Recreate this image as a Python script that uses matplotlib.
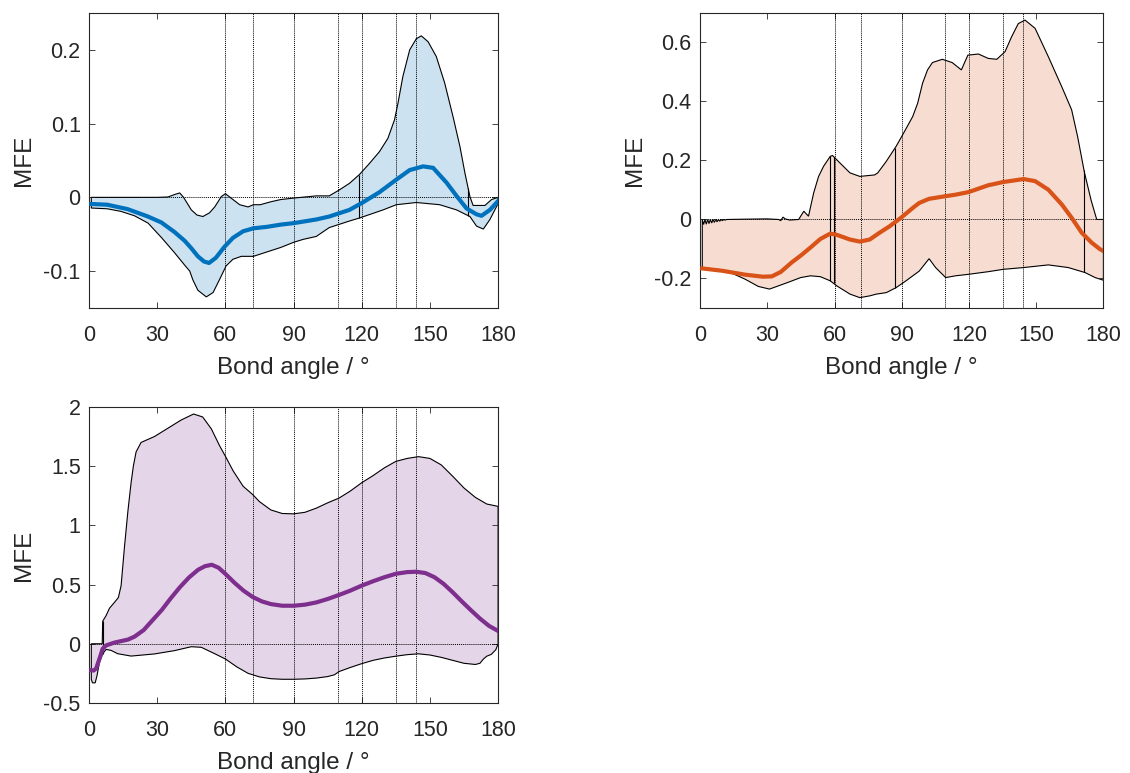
import numpy as np
import matplotlib
matplotlib.use('Agg')
import matplotlib.pyplot as plt
from matplotlib.colors import to_rgba
from matplotlib.ticker import MultipleLocator, FuncFormatter

plt.rcParams['font.family'] = ['Liberation Sans', 'DejaVu Sans']
plt.rcParams['axes.unicode_minus'] = False

# angles marked with dotted lines
ref_angles = [60, 72, 90, 109.47, 120, 135, 144]

# ---- panel 1 (blue) ----
a_up1 = [1, 30, 34.7, 37.8, 39.9, 41.6, 43, 45, 47.5, 50.1, 53, 55.3, 58.2, 60, 62.5, 66.3, 70, 72.3,
         75.3, 80, 84.3, 90, 100, 105.7, 110.1, 114.6, 119, 123.4, 127.8, 131.5, 134.4, 135.9, 138.1,
         141.1, 144, 146.2, 149.2, 152.8, 156.5, 160.2, 163.2, 165.4, 167.6, 169, 174.2, 177.1, 180]
up1 = [0.0, 0.0, 0.0005, 0.004, 0.006, 0.0, -0.007, -0.017, -0.024, -0.026, -0.021, -0.013, 0.001,
       0.005, -0.001, -0.010, -0.013, -0.010, -0.010, -0.006, -0.003, -0.001, 0.002, 0.002, 0.010,
       0.019, 0.031, 0.046, 0.062, 0.080, 0.105, 0.127, 0.164, 0.200, 0.215, 0.219, 0.211, 0.191,
       0.155, 0.109, 0.069, 0.033, 0.001, -0.011, -0.011, -0.003, 0.0]
a_lo1 = [1, 8, 14, 20, 26, 32, 37.6, 42.1, 44.3, 45.7, 47.9, 51.6, 54.6, 57.5, 60.3, 63.3, 67, 72.3,
         78.3, 84.3, 90, 94.2, 100, 105.7, 114.7, 119, 129.4, 135.2, 144, 154.3, 161.7, 167.6, 170.5,
         173.5, 176.4, 179.4, 180]
lo1 = [-0.0145, -0.0155, -0.019, -0.025, -0.035, -0.055, -0.075, -0.092, -0.100, -0.112, -0.126,
       -0.135, -0.129, -0.111, -0.093, -0.084, -0.080, -0.080, -0.074, -0.068, -0.061, -0.057,
       -0.053, -0.041, -0.032, -0.028, -0.017, -0.010, -0.007, -0.010, -0.017, -0.026, -0.039,
       -0.043, -0.030, -0.012, -0.008]
a_mn1 = [1, 8, 17, 25.9, 31.8, 37.6, 42.1, 45, 47.9, 50.6, 52.8, 55.8, 59.6, 63.3, 67.8, 72.3, 78.3,
         84.3, 90, 100, 105.7, 114.6, 120.4, 127.8, 135.2, 141.1, 147, 151.4, 157.3, 161.7, 166.1,
         170.5, 172.7, 176.4, 179.4, 180]
mn1 = [-0.009, -0.010, -0.016, -0.026, -0.034, -0.047, -0.059, -0.069, -0.080, -0.087, -0.089,
       -0.082, -0.067, -0.055, -0.046, -0.042, -0.040, -0.037, -0.035, -0.030, -0.026, -0.017,
       -0.007, 0.007, 0.024, 0.037, 0.042, 0.040, 0.020, 0.002, -0.015, -0.023, -0.025, -0.017,
       -0.007, -0.005]
cuts1 = [118.7, 166.8]

# ---- panel 2 (orange) ----
a_up2 = [1, 1.6, 2.2, 2.8, 3.4, 4.0, 4.6, 5.2, 5.8, 6.4, 7.0, 7.6, 8.2, 8.8, 9.4, 10, 10.6, 11.2, 12,
         20, 30, 35, 36, 37, 38, 40, 44, 46.3, 48.4, 50.7, 52.9, 55.1, 58.1, 59.1, 62.5, 66.9, 71.3,
         77.9, 79.3, 83.1, 87.5, 90.4, 94.9, 97.1, 99.3, 101.5, 103.7, 108.1, 112.5, 116.6, 119.5,
         124.2, 128.6, 132.4, 136.1, 139, 142, 145, 149.5, 155.4, 161.4, 165.8, 168.5, 171.5, 174.5,
         177, 180]
up2 = [0, -0.017, 0, -0.016, 0, -0.014, 0, -0.012, 0, -0.010, 0, -0.008, 0, -0.006, 0, -0.004, 0,
       -0.002, 0, 0.001, 0.002, 0.0, -0.004, 0.008, 0.002, -0.002, 0.0, 0.028, 0.011, 0.09, 0.146,
       0.18, 0.214, 0.217, 0.191, 0.158, 0.146, 0.151, 0.158, 0.197, 0.248, 0.287, 0.349, 0.394,
       0.462, 0.507, 0.532, 0.543, 0.532, 0.507, 0.557, 0.561, 0.546, 0.543, 0.569, 0.619, 0.664,
       0.676, 0.648, 0.552, 0.45, 0.372, 0.28, 0.16, 0.065, 0.0, 0.0]
a_lo2 = [1, 10, 15, 20, 26, 31, 35, 39, 44.9, 49.3, 53.7, 58.1, 61, 66.9, 71.3, 75.7, 78.7, 83.1,
         87.5, 91.9, 97.8, 102.2, 105.1, 109.6, 114, 119.7, 128.6, 135.3, 144.4, 155.4, 164.3,
         171.8, 176.3, 180]
lo2 = [-0.163, -0.171, -0.185, -0.202, -0.227, -0.236, -0.225, -0.214, -0.197, -0.191, -0.194,
       -0.208, -0.225, -0.253, -0.265, -0.259, -0.253, -0.248, -0.231, -0.208, -0.175, -0.133,
       -0.163, -0.197, -0.191, -0.186, -0.177, -0.169, -0.163, -0.154, -0.163, -0.180, -0.197,
       -0.206]
a_mn2 = [1, 10, 20, 28, 32, 36, 41, 45, 49.3, 53.7, 58.1, 61, 66.9, 71.3, 75.7, 80.1, 84.6, 89.7,
         94.9, 97.8, 102.2, 109.6, 114, 119.9, 128.6, 135.3, 144.4, 149.5, 155.4, 161.4, 165.8,
         170.3, 174.8, 178.5, 180]
mn2 = [-0.166, -0.174, -0.187, -0.194, -0.193, -0.178, -0.145, -0.122, -0.095, -0.066, -0.048,
       -0.052, -0.068, -0.075, -0.068, -0.045, -0.023, 0.006, 0.039, 0.056, 0.070, 0.079, 0.084,
       0.093, 0.116, 0.127, 0.137, 0.130, 0.101, 0.051, 0.006, -0.045, -0.079, -0.101, -0.107]
cuts2 = [58.1, 59.6, 87.1, 171.3]

# ---- panel 3 (purple) ----
a_up3 = [1, 5.8, 6, 7.5, 9, 11.2, 12.9, 14.1, 15.6, 17.1, 18.5, 19.5, 20.7, 22.9, 28.8, 34.7, 40.6,
         46, 50, 53.8, 57.5, 60.1, 63.4, 67.8, 72, 75, 80, 85, 90, 95, 100, 105, 110, 115, 120, 125,
         130, 135, 140, 145, 150, 155, 160, 165, 170, 175, 180]
up3 = [0, 0, 0.19, 0.238, 0.30, 0.35, 0.39, 0.49, 0.82, 1.12, 1.36, 1.50, 1.62, 1.70, 1.75, 1.82,
       1.89, 1.94, 1.915, 1.815, 1.67, 1.58, 1.46, 1.33, 1.26, 1.20, 1.13, 1.10, 1.097, 1.11, 1.145,
       1.19, 1.23, 1.29, 1.36, 1.42, 1.486, 1.54, 1.565, 1.58, 1.565, 1.51, 1.415, 1.315, 1.236,
       1.18, 1.16]
a_lo3 = [1, 1.5, 2.7, 3.5, 4.6, 6, 7.5, 9.7, 12.6, 18.5, 28.8, 37.6, 45, 49.4, 55.3, 60.1, 65, 70,
         75, 80, 85, 90, 95, 100, 105, 108, 110, 115, 120, 125, 130, 135, 140, 145, 150, 155, 160,
         165, 170, 172, 173.5, 175, 177, 179, 180]
lo3 = [-0.30, -0.33, -0.33, -0.27, -0.155, -0.085, -0.048, -0.056, -0.084, -0.104, -0.086, -0.058,
       -0.025, -0.030, -0.084, -0.13, -0.195, -0.250, -0.280, -0.295, -0.300, -0.300, -0.297,
       -0.290, -0.277, -0.262, -0.235, -0.200, -0.168, -0.140, -0.120, -0.105, -0.092, -0.085,
       -0.095, -0.115, -0.140, -0.165, -0.175, -0.165, -0.13, -0.105, -0.090, -0.050, 0.0]
a_mn3 = [1, 2, 3.1, 4.6, 6, 7.5, 11.2, 17.1, 20, 24, 28, 32, 36, 40, 44, 48, 51, 54, 57, 60, 64, 68,
         72, 76, 80, 85, 90, 95, 100, 105, 110, 115, 120, 125, 130, 135, 140, 144, 148, 152, 156,
         160, 164, 168, 172, 176, 180]
mn3 = [-0.224, -0.226, -0.21, -0.126, -0.042, -0.014, 0.010, 0.035, 0.06, 0.115, 0.20, 0.285, 0.385,
       0.478, 0.56, 0.625, 0.655, 0.667, 0.642, 0.59, 0.515, 0.448, 0.395, 0.358, 0.335, 0.321,
       0.321, 0.33, 0.349, 0.378, 0.412, 0.449, 0.491, 0.528, 0.562, 0.591, 0.605, 0.608, 0.597,
       0.562, 0.506, 0.435, 0.358, 0.284, 0.213, 0.151, 0.108]
cuts3 = [6]

dark = '#262626'


def draw(ax, color, a_up, up, a_lo, lo, a_mn, mn, cuts, ylim, ystep):
    a_up, up, a_lo, lo = map(np.asarray, (a_up, up, a_lo, lo))
    px = np.concatenate([a_up, a_lo[::-1]])
    py = np.concatenate([up, lo[::-1]])
    ax.fill(px, py, facecolor=to_rgba(color, 0.2), edgecolor='k', lw=0.8, zorder=1)
    ax.vlines(cuts, np.interp(cuts, a_lo, lo), np.interp(cuts, a_up, up),
              colors='k', lw=0.8, zorder=2)
    ax.axhline(0, color='k', ls=(0, (1, 1)), lw=0.7, zorder=2)
    for a in ref_angles:
        ax.axvline(a, color='k', ls=(0, (1, 1)), lw=0.7, zorder=2)
    ax.plot(a_mn, mn, color=color, lw=3, zorder=3, solid_joinstyle='round')

    ax.set_xlim(0, 180)
    ax.set_ylim(*ylim)
    ax.xaxis.set_major_locator(MultipleLocator(30))
    ax.yaxis.set_major_locator(MultipleLocator(ystep))
    ax.yaxis.set_major_formatter(FuncFormatter(lambda v, p: f'{v:g}'))
    ax.tick_params(direction='in', top=True, right=True, length=4, width=0.6,
                   labelsize=15.5, colors=dark)
    ax.tick_params(axis='x', pad=12)
    ax.tick_params(axis='y', pad=6)
    for s in ax.spines.values():
        s.set_color(dark)
        s.set_linewidth(0.8)
    ax.set_xlabel('Bond angle / °', fontsize=17.5, color=dark, labelpad=8)
    ax.set_ylabel('MFE', fontsize=17.5, color=dark, labelpad=6)


fig = plt.figure(figsize=(11.3, 7.73), dpi=100)
ax1 = fig.add_axes([0.0788, 0.6016, 0.362, 0.3816])
ax2 = fig.add_axes([0.6195, 0.6016, 0.357, 0.3816])
ax3 = fig.add_axes([0.0788, 0.0906, 0.362, 0.383])

draw(ax1, '#0072BD', a_up1, up1, a_lo1, lo1, a_mn1, mn1, cuts1, (-0.15, 0.25), 0.1)
draw(ax2, '#D95319', a_up2, up2, a_lo2, lo2, a_mn2, mn2, cuts2, (-0.3, 0.7), 0.2)
draw(ax3, '#7E2F8E', a_up3, up3, a_lo3, lo3, a_mn3, mn3, cuts3, (-0.5, 2), 0.5)

fig.savefig('out.png', dpi=100)
